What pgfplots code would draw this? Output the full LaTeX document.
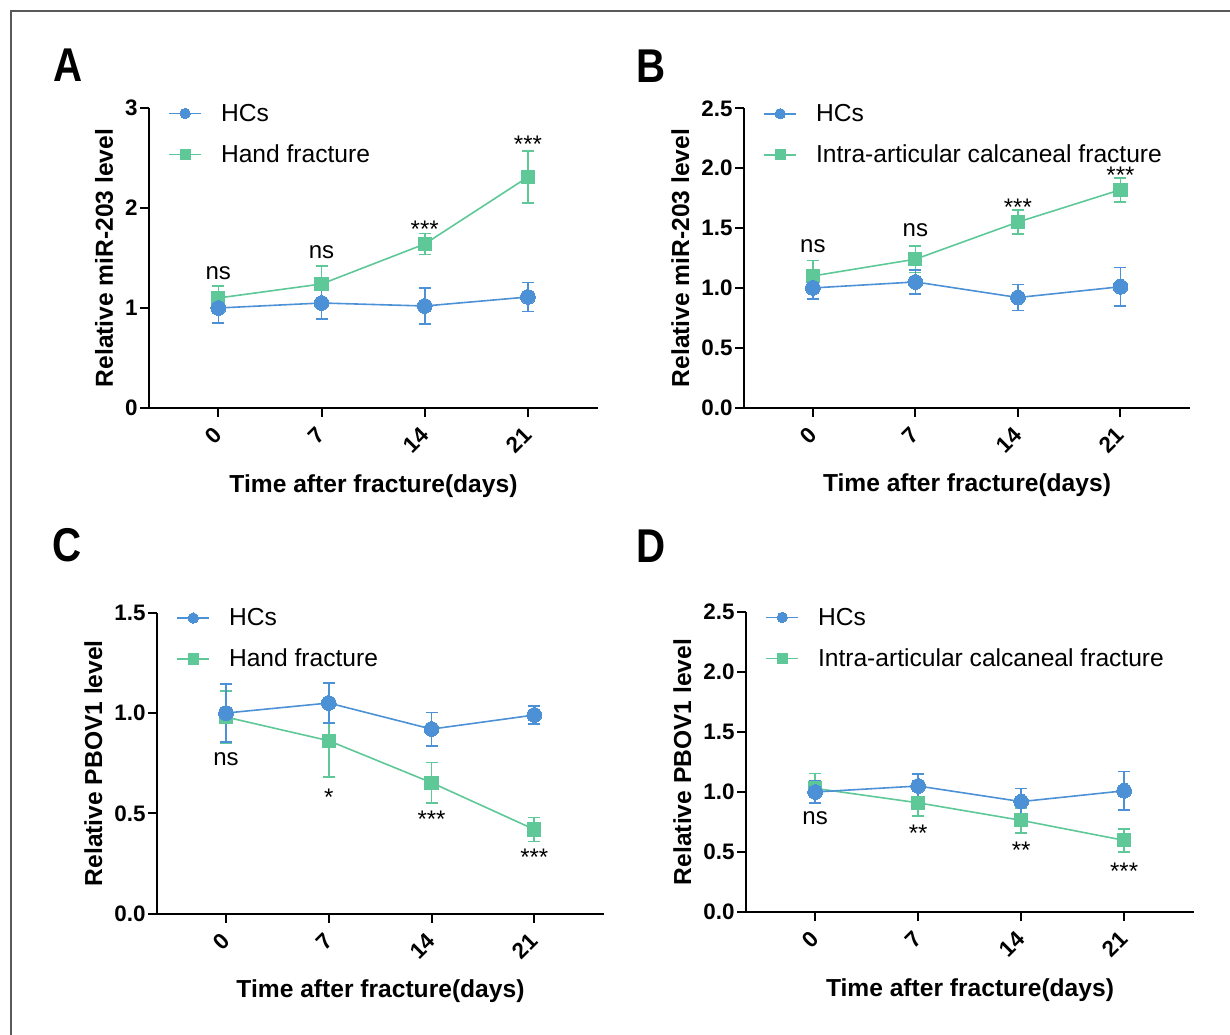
\documentclass[border=0pt]{standalone}
\usepackage{fontspec}
\setmainfont{Liberation Sans}
\usepackage{pgfplots}
\pgfplotsset{compat=1.18}
\definecolor{hcblue}{RGB}{76,145,214}
\definecolor{frgreen}{RGB}{94,200,152}
\newcommand{\tickfont}{\fontsize{11.2}{12}\selectfont\bfseries}
\newcommand{\labfont}{\fontsize{12.3}{14}\selectfont\bfseries}
\newcommand{\legfont}{\fontsize{12.3}{14}\selectfont}
\newcommand{\annfont}{\fontsize{12}{14}\selectfont}
\newcommand{\letfont}{\fontsize{23.7}{26}\selectfont\bfseries}
\pgfplotsset{
  panel/.style={
    scale only axis, anchor=south west,
    xmin=-4.7, xmax=25.75, ymin=0,
    axis x line=bottom, axis y line=left,
    axis line style={-, line width=1pt, black},
    xtick={0,7,14,21},
    tick align=outside, major tick length=4.5pt,
    every tick/.style={black, line width=1pt},
    tick label style={font=\tickfont},
    /pgf/number format/assume math mode=true,
    xticklabel style={rotate=45, anchor=east, inner sep=0pt},
    xticklabel shift=7pt,
    yticklabel style={inner sep=0pt},
    yticklabel shift=1pt,
    label style={font=\labfont},
    ylabel shift=2.5pt,
    xlabel={Time after fracture(days)},
    xlabel style={at={(axis description cs:0.5,0)}, anchor=base, yshift=-42pt, inner sep=0pt},
    legend cell align=left,
    reverse legend,
    legend style={draw=none, fill=none, at={(0,1)}, anchor=north west,
      xshift=9.5pt, yshift=3.6pt, font=\legfont, inner sep=0pt,
      row sep=7.5pt, column sep=9.5pt,
      nodes={inner sep=0pt, text height=10pt, text depth=3pt}},
    legend image code/.code={\draw[##1, mark repeat=2, mark phase=2, mark size=2.6pt, yshift=0.4pt]
      plot coordinates {(0pt,0pt) (8pt,0pt) (16pt,0pt)};},
    error bars/y dir=both, error bars/y explicit,
  },
  hcs/.style={color=hcblue, line width=0.8pt, mark=*, mark size=3.7pt,
    mark options={solid, fill=hcblue, draw=hcblue, line width=0pt},
    error bars/error bar style={line width=0.8pt, hcblue},
    error bars/error mark options={rotate=90, mark size=3pt, line width=0.8pt, hcblue}},
  frac/.style={color=frgreen, line width=0.8pt, mark=square*, mark size=3.3pt,
    mark options={solid, fill=frgreen, draw=frgreen, line width=0pt},
    error bars/error bar style={line width=0.8pt, frgreen},
    error bars/error mark options={rotate=90, mark size=3pt, line width=0.8pt, frgreen}},
  dec/.style={yticklabel style={/pgf/number format/.cd, fixed, fixed zerofill, precision=1}},
}
\newcommand{\ns}[2]{\node[font=\annfont, anchor=base, yshift=-3.1pt] at (axis cs:#1,#2) {ns};}
\newcommand{\st}[3]{\node[font=\annfont, anchor=base, yshift=-6.9pt] at (axis cs:#1,#2) {#3};}
\begin{document}
\begin{tikzpicture}
\useasboundingbox (0,0) rectangle (615pt,517pt);
\draw[black!65, line width=0.9pt] (5.5pt,-2pt) -- (5.5pt,511.5pt) -- (617pt,511.5pt);
% panel letters
\node[font=\letfont, inner sep=0pt, xscale=0.85] at (34.25pt,484.25pt) {A};
\node[font=\letfont, inner sep=0pt, xscale=0.85] at (325.5pt,484pt) {B};
\node[font=\letfont, inner sep=0pt, xscale=0.85] at (33.75pt,244.5pt) {C};
\node[font=\letfont, inner sep=0pt, xscale=0.85] at (325.5pt,244pt) {D};
% ---------- A
\begin{axis}[panel, at={(74.5pt,313pt)}, width=224.5pt, height=150pt,
  ymax=3, ytick={0,1,2,3}, ylabel={Relative miR-203 level}]
\addplot+[frac] coordinates {(0,1.10)+-(0,0.12) (7,1.24)+-(0,0.18) (14,1.64)+-(0,0.105) (21,2.31)+-(0,0.26)};
\addlegendentry{Hand fracture}
\addplot+[hcs] coordinates {(0,1.00)+-(0,0.15) (7,1.05)+-(0,0.16) (14,1.02)+-(0,0.18) (21,1.11)+-(0,0.145)};
\addlegendentry{HCs}
\ns{0}{1.35}\ns{7}{1.56}\st{14}{1.84}{***}\st{21}{2.69}{***}
\end{axis}
% ---------- B
\begin{axis}[panel, dec, at={(372pt,313.15pt)}, width=223pt, height=149.7pt,
  ymax=2.5, ytick={0,0.5,1,1.5,2,2.5}, ylabel={Relative miR-203 level}]
\addplot+[frac] coordinates {(0,1.10)+-(0,0.13) (7,1.24)+-(0,0.11) (14,1.55)+-(0,0.10) (21,1.82)+-(0,0.10)};
\addlegendentry{Intra-articular calcaneal fracture}
\addplot+[hcs] coordinates {(0,1.00)+-(0,0.09) (7,1.05)+-(0,0.10) (14,0.92)+-(0,0.11) (21,1.01)+-(0,0.16)};
\addlegendentry{HCs}
\ns{0}{1.35}\ns{7}{1.48}\st{14}{1.72}{***}\st{21}{1.99}{***}
\end{axis}
% ---------- C
\begin{axis}[panel, dec, at={(78.5pt,60.15pt)}, width=223.5pt, height=150.5pt,
  ymax=1.5, ytick={0,0.5,1,1.5}, ylabel={Relative PBOV1 level}]
\addplot+[frac] coordinates {(0,0.98)+-(0,0.13) (7,0.862)+-(0,0.18) (14,0.653)+-(0,0.10) (21,0.42)+-(0,0.06)};
\addlegendentry{Hand fracture}
\addplot+[hcs] coordinates {(0,1.00)+-(0,0.145) (7,1.05)+-(0,0.10) (14,0.92)+-(0,0.083) (21,0.99)+-(0,0.046)};
\addlegendentry{HCs}
\ns{0}{0.77}\st{7}{0.61}{*}\st{14}{0.50}{***}\st{21}{0.31}{***}
\end{axis}
% ---------- D
\begin{axis}[panel, dec, at={(373pt,61pt)}, width=224pt, height=150pt,
  ymax=2.5, ytick={0,0.5,1,1.5,2,2.5}, ylabel={Relative PBOV1 level}]
\addplot+[frac] coordinates {(0,1.03)+-(0,0.125) (7,0.91)+-(0,0.11) (14,0.764)+-(0,0.105) (21,0.597)+-(0,0.095)};
\addlegendentry{Intra-articular calcaneal fracture}
\addplot+[hcs] coordinates {(0,1.00)+-(0,0.09) (7,1.05)+-(0,0.10) (14,0.92)+-(0,0.11) (21,1.01)+-(0,0.16)};
\addlegendentry{HCs}
\ns{0}{0.78}\st{7}{0.70}{**}\st{14}{0.564}{**}\st{21}{0.39}{***}
\end{axis}
\end{tikzpicture}
\end{document}
